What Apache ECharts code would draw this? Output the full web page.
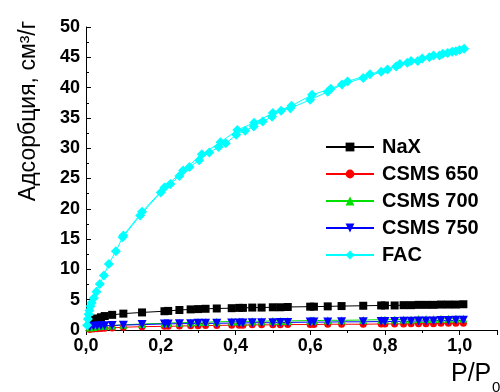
<!DOCTYPE html>
<html>
<head>
<meta charset="utf-8">
<script src="https://cdn.jsdelivr.net/npm/echarts@6/dist/echarts.min.js"></script>
<style>
html,body{margin:0;padding:0;background:#fff;}
#c{width:500px;height:392px;}
</style>
</head>
<body>
<div id="c"></div>
<script>
// ---- data ----
var seriesNames = ['NaX', 'CSMS 650', 'CSMS 700', 'CSMS 750', 'FAC'];
var xTickLabels = ['0,0', '0,2', '0,4', '0,6', '0,8', '1,0'];
var yTickLabels = ['0', '5', '10', '15', '20', '25', '30', '35', '40', '45', '50'];

var pGrid = [0.01, 0.02, 0.03, 0.04, 0.05, 0.07, 0.10, 0.15, 0.21, 0.22, 0.25, 0.28, 0.30, 0.32, 0.35, 0.39, 0.41, 0.42, 0.445, 0.47, 0.50, 0.52, 0.54, 0.60, 0.61, 0.647, 0.684, 0.742, 0.79, 0.80, 0.826, 0.85, 0.87, 0.89, 0.91, 0.93, 0.95, 0.97, 0.99, 1.01];
var naxY   = [1.2, 1.7, 1.9, 2.1, 2.3, 2.5, 2.7, 2.9, 3.1, 3.15, 3.3, 3.4, 3.45, 3.5, 3.55, 3.6, 3.65, 3.65, 3.7, 3.7, 3.75, 3.75, 3.8, 3.85, 3.85, 3.9, 3.95, 4.0, 4.05, 4.05, 4.05, 4.1, 4.1, 4.15, 4.15, 4.15, 4.2, 4.2, 4.2, 4.25];
var csms650Y = [0.1, 0.15, 0.2, 0.25, 0.3, 0.35, 0.45, 0.55, 0.6, 0.6, 0.65, 0.7, 0.7, 0.75, 0.75, 0.8, 0.8, 0.8, 0.85, 0.85, 0.85, 0.85, 0.9, 0.9, 0.9, 0.95, 0.95, 0.95, 1.0, 1.0, 1.0, 1.0, 1.05, 1.05, 1.05, 1.05, 1.1, 1.1, 1.1, 1.1];
var csms700Y = [0.4, 0.5, 0.6, 0.65, 0.7, 0.75, 0.85, 1.0, 1.1, 1.15, 1.2, 1.25, 1.3, 1.3, 1.35, 1.4, 1.4, 1.4, 1.45, 1.45, 1.5, 1.5, 1.5, 1.55, 1.55, 1.6, 1.6, 1.65, 1.7, 1.7, 1.7, 1.75, 1.75, 1.8, 1.8, 1.8, 1.85, 1.85, 1.9, 1.9];
var csms750Y = [0.5, 0.6, 0.65, 0.7, 0.7, 0.75, 0.8, 0.9, 1.0, 1.0, 1.05, 1.05, 1.1, 1.1, 1.1, 1.15, 1.15, 1.15, 1.2, 1.2, 1.2, 1.25, 1.25, 1.3, 1.3, 1.3, 1.35, 1.35, 1.4, 1.4, 1.4, 1.45, 1.45, 1.5, 1.5, 1.5, 1.55, 1.55, 1.6, 1.6];

// FAC: adsorption branch (ascending P/P0) then desorption branch (descending)
var facX = [0.003, 0.005, 0.007, 0.009, 0.012, 0.015, 0.021, 0.028, 0.037, 0.048, 0.061, 0.080, 0.098, 0.145, 0.200, 0.226, 0.250, 0.277, 0.303, 0.330, 0.355, 0.374, 0.402, 0.426, 0.449, 0.473, 0.498, 0.522, 0.547, 0.600, 0.647, 0.685, 0.742, 0.790, 0.830, 0.860, 0.888, 0.919, 0.946, 0.968, 0.990, 1.012,
            1.000, 0.980, 0.955, 0.930, 0.900, 0.870, 0.840, 0.807, 0.760, 0.700, 0.655, 0.605, 0.550, 0.500, 0.450, 0.405, 0.360, 0.310, 0.260, 0.210, 0.150, 0.100];
var facY = [0.8, 1.8, 2.6, 3.2, 3.9, 4.5, 5.3, 6.3, 7.6, 9.0, 10.9, 13.0, 15.3, 18.9, 22.7, 24.1, 25.4, 26.9, 28.0, 29.3, 30.2, 30.8, 32.2, 32.9, 33.6, 34.4, 35.2, 36.2, 36.6, 38.0, 39.3, 40.5, 41.6, 42.6, 43.5, 44.1, 44.4, 45.0, 45.3, 45.7, 46.0, 46.4,
            46.2, 45.9, 45.6, 45.3, 44.8, 44.4, 43.9, 43.0, 42.2, 41.0, 39.8, 38.8, 37.0, 35.8, 34.2, 33.0, 31.0, 29.0, 26.3, 23.5, 19.5, 15.6];

function pairs(xs, ys) {
  var out = [];
  for (var i = 0; i < xs.length; i++) out.push([xs[i], ys[i]]);
  return out;
}

var font = 'Liberation Sans, Arial, sans-serif';
var chart = echarts.init(document.getElementById('c'), null, {renderer: 'canvas'});

function lineSeries(name, data, color, symbol, size, rotate) {
  return {
    name: name, type: 'line', data: data,
    symbol: symbol, symbolSize: size, symbolRotate: rotate || 0,
    showSymbol: true,
    lineStyle: {color: color, width: 1},
    itemStyle: {color: color},
    emphasis: {disabled: true},
    z: 2
  };
}

chart.setOption({
  animation: false,
  backgroundColor: '#ffffff',
  grid: {left: 86, right: 2, top: 27, bottom: 62, containLabel: false},
  legend: {
    orient: 'vertical', left: 320, top: 132,
    itemWidth: 48, itemHeight: 11, itemGap: 7,
    data: seriesNames,
    textStyle: {fontFamily: font, fontWeight: 'bold', fontSize: 20, color: '#000', lineHeight: 20, padding: [0, 0, 0, 3]},
    selectedMode: false
  },
  xAxis: {
    type: 'value', min: 0, max: 1.1, interval: 0.2,
    axisLine: {show: true, lineStyle: {color: '#000', width: 1}},
    axisTick: {show: true, inside: false, length: 5, lineStyle: {color: '#000'}},
    minorTick: {show: true, splitNumber: 2, length: 3, lineStyle: {color: '#000'}},
    splitLine: {show: false},
    axisLabel: {
      fontFamily: font, fontWeight: 'bold', fontSize: 18, color: '#000', margin: 7,
      formatter: function (v) {
        var i = Math.round(v / 0.2);
        if (Math.abs(v - i * 0.2) > 1e-6 || i >= xTickLabels.length) return '';
        return xTickLabels[i];
      }
    }
  },
  yAxis: {
    type: 'value', min: 0, max: 50, interval: 5,
    axisLine: {show: true, lineStyle: {color: '#000', width: 1}},
    axisTick: {show: true, inside: true, length: 5, lineStyle: {color: '#000'}},
    minorTick: {show: true, splitNumber: 2, length: 3, lineStyle: {color: '#000'}},
    splitLine: {show: false},
    axisLabel: {
      fontFamily: font, fontWeight: 'bold', fontSize: 18, color: '#000', margin: 6,
      formatter: function (v) {
        var i = Math.round(v / 5);
        return yTickLabels[i] !== undefined ? yTickLabels[i] : '';
      }
    }
  },
  graphic: [
    {
      type: 'text', x: 29, y: 111, rotation: Math.PI / 2,
      style: {
        text: 'Адсорбция, см³/г', fontFamily: font, fontSize: 23, fill: '#000',
        align: 'center', verticalAlign: 'middle'
      }
    },
    {
      type: 'text', x: 451, y: 362,
      style: {text: 'P/P', fontFamily: font, fontSize: 25, fill: '#000'}
    },
    {
      type: 'text', x: 492, y: 380,
      style: {text: '0', fontFamily: font, fontSize: 15, fill: '#000'}
    }
  ],
  series: [
    lineSeries('NaX', pairs(pGrid, naxY), '#000000', 'rect', 8),
    lineSeries('CSMS 650', pairs(pGrid, csms650Y), '#ff0000', 'circle', 7),
    lineSeries('CSMS 700', pairs(pGrid, csms700Y), '#00e000', 'triangle', 8),
    lineSeries('CSMS 750', pairs(pGrid, csms750Y), '#0000ff', 'triangle', 9, 180),
    lineSeries('FAC', pairs(facX, facY), '#00ffff', 'diamond', 10)
  ]
});
</script>
</body>
</html>
